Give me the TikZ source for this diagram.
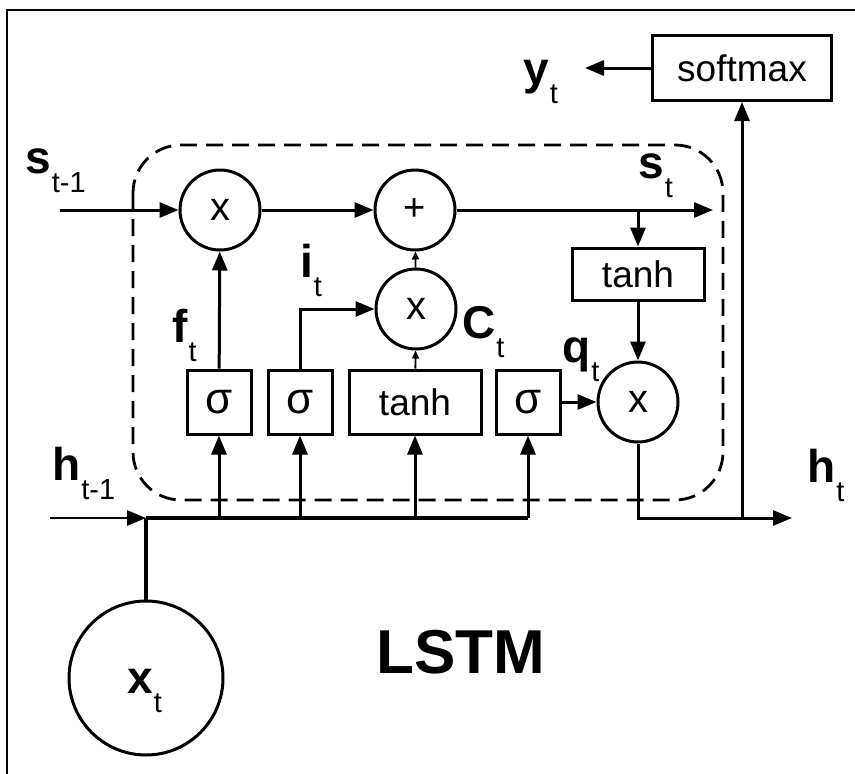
\documentclass[tikz,border=0pt]{standalone}
\usepackage{fontspec}
\setmainfont{Liberation Sans}
\usetikzlibrary{arrows.meta}
\newcommand{\lbl}[2]{{\fontsize{46}{48}\selectfont\bfseries #1}\kern1pt\raisebox{-19pt}{\fontsize{29}{30}\selectfont #2}}
\begin{document}
\begin{tikzpicture}[x=1pt,y=-1pt,
  ln/.style={line width=3pt},
  arr/.style={ln,-{Triangle[length=19pt,width=15pt]}},
  sarr/.style={line width=1.8pt,-{Triangle[length=8pt,width=7pt]}},
  op/.style={circle,draw,line width=3pt,minimum size=80pt,inner sep=0pt,font=\fontsize{40}{42}\selectfont},
  blk/.style={draw,line width=3pt,inner sep=0pt,minimum height=64pt,font=\fontsize{37}{39}\selectfont},
  sg/.style={blk,minimum width=64pt,font=\fontsize{44}{46}\selectfont},
  lab/.style={anchor=base west,inner sep=0pt}]
\useasboundingbox (0,0) rectangle (855,774);
% frame
\draw[line width=1.5pt] (855,10) -- (7,10) -- (7,774);
% dashed cell
\draw[line width=2.8pt,dash pattern=on 17pt off 9pt,rounded corners=48pt] (133,145) rectangle (723,500);
% operators
\node[op] (m1) at (220,210) {x};
\node[op,font=\fontsize{38}{40}\selectfont] (add) at (415,210) {+};
\node[op] (m2) at (416,309) {x};
\node[op] (m3) at (638,402) {x};
% blocks
\node[sg] (s1) at (219,402) {σ};
\node[sg] (s2) at (300,402) {σ};
\node[blk,minimum width=132pt] (ta) at (415,402) {tanh};
\node[sg] (s3) at (528,402) {σ};
\node[blk,minimum width=132pt,minimum height=52pt] (tb) at (638,274) {tanh};
\node[blk,minimum width=179pt,minimum height=65pt,font=\fontsize{37}{39}\selectfont] (sm) at (742,68) {softmax};
\node[circle,draw,line width=3pt,minimum size=154pt,inner sep=0pt] (xt) at (146,678) {};
% coordinates
\coordinate (sin) at (60,210);
\coordinate (sout) at (713,210);
\coordinate (br) at (638,210);
\coordinate (hin) at (50,518);
\coordinate (bus0) at (146,518);
\coordinate (hout) at (792,518);
\coordinate (yout) at (585,68);
% labels
\node[lab] (Lsin) at (25,173) {\lbl{s}{t-1}};
\node[lab] (Lst) at (638,178) {\lbl{s}{t}};
\node[lab] (Lhin) at (52,480) {\lbl{h}{t-1}};
\node[lab] (Lht) at (807,482) {\lbl{h}{t}};
\node[lab] (Lyt) at (523,84) {\lbl{y}{t}};
\node[lab] (Lft) at (172,342) {\lbl{f}{t}};
\node[lab] (Lit) at (300,277) {\lbl{i}{t}};
\node[lab] (Lct) at (462,338) {\lbl{C}{t}};
\node[lab] (Lqt) at (562,362) {\lbl{q}{t}};
\node[lab] (Lxt) at (127,693) {\lbl{x}{t}};
\node[lab,font=\fontsize{62}{64}\selectfont\bfseries] (title) at (376,673) {LSTM};
% connectors
\draw[arr] (sin) -- (m1);
\draw[arr] (m1) -- (add);
\draw[arr] (add) -- (sout);
\draw[arr] (br) -- (tb);
\draw[arr] (tb) -- (m3);
\draw[arr] (s3) -- (m3);
\draw[arr] (m3.south) |- (hout);
\draw[arr] (sm.south |- hout) -- (sm.south);
\draw[arr] (sm) -- (yout);
\draw[arr] (s1) -- (m1);
\draw[arr] (s2.north) |- (m2.west);
\draw[sarr] (ta) -- (m2);
\draw[sarr] (m2) -- (add);
\draw[arr,line width=2.6pt] (hin) -- (bus0);
\draw[line width=4pt] (bus0) -- (s3.south |- bus0);
\draw[line width=4pt] (bus0) -- (xt);
\draw[arr] (s1.south |- bus0) -- (s1.south);
\draw[arr] (s2.south |- bus0) -- (s2.south);
\draw[arr] (ta.south |- bus0) -- (ta.south);
\draw[arr] (s3.south |- bus0) -- (s3.south);
\end{tikzpicture}
\end{document}
